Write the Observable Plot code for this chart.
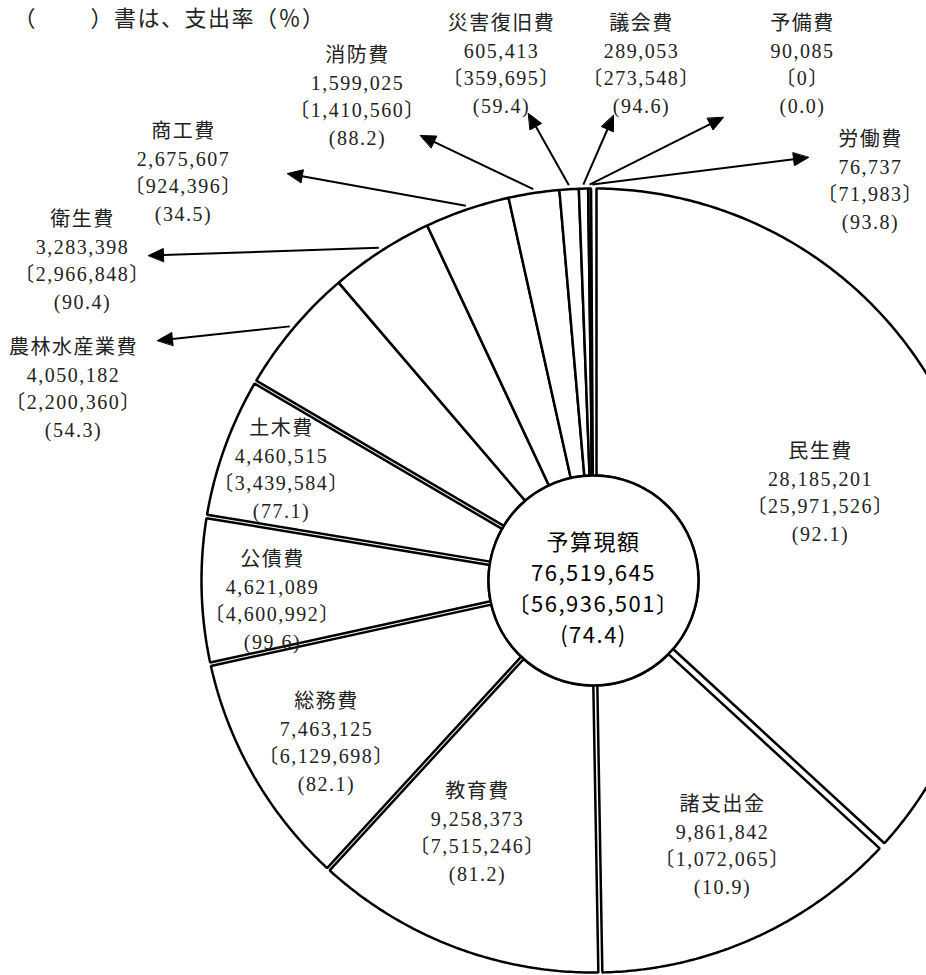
<!DOCTYPE html>
<html>
<head>
<meta charset="utf-8">
<script src="https://cdn.jsdelivr.net/npm/d3@7"></script>
<script src="https://cdn.jsdelivr.net/npm/@observablehq/plot@0.6"></script>
<style>
  html, body { margin: 0; padding: 0; background: #fff; }
  #chart svg { display: block; overflow: visible; }
</style>
</head>
<body>
<div id="chart"></div>
<script>
// ---------------- DATA ----------------
const categories = ["民生費", "諸支出金", "教育費", "総務費", "公債費", "土木費", "農林水産業費", "衛生費", "商工費", "消防費", "災害復旧費", "議会費", "予備費", "労働費"];
const budget = [28185201, 9861842, 9258373, 7463125, 4621089, 4460515, 4050182, 3283398, 2675607, 1599025, 605413, 289053, 90085, 76737];
const spent  = [25971526, 1072065, 7515246, 6129698, 4600992, 3439584, 2200360, 2966848, 924396, 1410560, 359695, 273548, 0, 71983];
const rate   = [92.1, 10.9, 81.2, 82.1, 99.6, 77.1, 54.3, 90.4, 34.5, 88.2, 59.4, 94.6, 0.0, 93.8];
const totalLabel = "予算現額";
const totalBudget = 76519645;
const totalSpent = 56936501;
const totalRate = 74.4;
const titleText = "（　　 ）書は、支出率（％）";

// ---------------- LAYOUT / STYLE ----------------
const W = 926, H = 975;
const CX = 593, CY = 580, R = 392, R0 = 105;
// white gap (px) after each slice, going clockwise
const gapAfter = [7, 4, 3.5, 3.5, 3.5, 3.5, 0, 0, 0, 0, 0, 0, 0, 6];
// where each label block is centred
const labelAt = {
  "民生費": [820, 490], "諸支出金": [722, 843], "教育費": [477, 830], "総務費": [326, 740],
  "公債費": [272, 598], "土木費": [281, 467], "農林水産業費": [73, 386], "衛生費": [82, 258],
  "商工費": [183, 170], "消防費": [357, 94], "災害復旧費": [501, 62], "議会費": [641, 62],
  "予備費": [802, 62], "労働費": [870, 178]
};
// callout arrow tips
const arrowTip = {
  "農林水産業費": [157, 340], "衛生費": [148, 255], "商工費": [287, 173], "消防費": [420, 135],
  "災害復旧費": [528, 113], "議会費": [613, 115], "予備費": [723, 117], "労働費": [808, 157]
};
const LABEL_FONT = "'Liberation Serif', 'Noto Sans CJK JP', serif";
const CENTER_FONT = "'Noto Sans CJK JP', sans-serif";

// ---------------- GEOMETRY ----------------
const fmt = d3.format(",");
const n = categories.length;
const arcs = d3.pie().sort(null).value(d => d)(budget);
const pt = (a, r) => [CX + r * Math.sin(a), CY - r * Math.cos(a)];

const sliceRows = [];
arcs.forEach((arc, i) => {
  const gs = gapAfter[(i - 1 + n) % n] / 2, ge = gapAfter[i] / 2;
  const span = (r) => {
    let a0 = arc.startAngle + Math.asin(Math.min(1, gs / r));
    let a1 = arc.endAngle - Math.asin(Math.min(1, ge / r));
    if (a1 < a0) { const m = (a0 + a1) / 2; a0 = a1 = m; }
    return [a0, a1];
  };
  const [o0, o1] = span(R);
  const [i0, i1] = span(R0);
  const steps = Math.max(2, Math.ceil((o1 - o0) / (Math.PI / 360)));
  for (let k = 0; k <= steps; k++) {
    const [x, y] = pt(o0 + (o1 - o0) * k / steps, R);
    sliceRows.push({id: i, x, y});
  }
  const isteps = Math.max(2, Math.ceil((i1 - i0) / (Math.PI / 180)));
  for (let k = isteps; k >= 0; k--) {
    const [x, y] = pt(i0 + (i1 - i0) * k / isteps, R0);
    sliceRows.push({id: i, x, y});
  }
});

const labels = categories.map((c, i) => ({
  x: labelAt[c][0], y: labelAt[c][1],
  text: `${c}\n${fmt(budget[i])}\n〔${fmt(spent[i])}〕\n(${rate[i].toFixed(1)})`
}));

const arrows = [], heads = [];
categories.forEach((c, i) => {
  if (!arrowTip[c]) return;
  const mid = (arcs[i].startAngle + arcs[i].endAngle) / 2;
  const [x1, y1] = pt(mid, R + 4);
  const [tx, ty] = arrowTip[c];
  const len = Math.hypot(tx - x1, ty - y1);
  const ux = (tx - x1) / len, uy = (ty - y1) / len;
  const L = 15, HW = 6.5;
  const bx = tx - L * ux, by = ty - L * uy;
  arrows.push({x1, y1, x2: bx, y2: by});
  heads.push({id: c, x: tx, y: ty});
  heads.push({id: c, x: bx - HW * uy, y: by + HW * ux});
  heads.push({id: c, x: bx + HW * uy, y: by - HW * ux});
});

const centerText = `${totalLabel}\n${fmt(totalBudget)}\n〔${fmt(totalSpent)}〕\n(${totalRate.toFixed(1)})`;

// ---------------- PLOT ----------------
const chart = Plot.plot({
  width: W, height: H, margin: 0,
  style: {background: "#fff", letterSpacing: "1.5px"},
  x: {domain: [0, W], range: [0, W], axis: null},
  y: {domain: [0, H], range: [0, H], axis: null},
  marks: [
    Plot.line(sliceRows, {x: "x", y: "y", z: "id", curve: "linear-closed", fill: "white", stroke: "black", strokeWidth: 2.5, strokeLinejoin: "miter"}),
    Plot.dot([{x: CX, y: CY}], {x: "x", y: "y", r: R0, fill: "white", stroke: "black", strokeWidth: 2.5}),
    Plot.link(arrows, {x1: "x1", y1: "y1", x2: "x2", y2: "y2", stroke: "black", strokeWidth: 2}),
    Plot.line(heads, {x: "x", y: "y", z: "id", curve: "linear-closed", fill: "black", stroke: "black", strokeWidth: 1}),
    Plot.text(labels, {x: "x", y: "y", text: "text", fontSize: 20, lineHeight: 1.375, fontFamily: LABEL_FONT, fill: "#222"}),
    Plot.text([centerText], {x: () => CX, y: () => CY + 6, text: d => d, fontSize: 22, lineHeight: 1.4, fontFamily: CENTER_FONT, fill: "black"}),
    Plot.text([titleText], {frameAnchor: "top-left", dx: 13, dy: 25, lineAnchor: "bottom", textAnchor: "start", fontSize: 22, fontFamily: CENTER_FONT, fill: "#222"})
  ]
});
document.getElementById("chart").appendChild(chart);
</script>
</body>
</html>
